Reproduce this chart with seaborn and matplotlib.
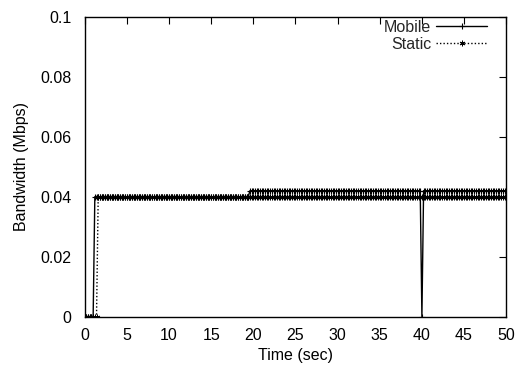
import numpy as np
import pandas as pd
import matplotlib
matplotlib.use("Agg")
import matplotlib.pyplot as plt
import seaborn as sns

# sample times (sec)
time_step = 0.2
t_end = 50.0

# piecewise levels: (start time, bandwidth Mbps)
mobile_breaks = [0.0, 1.2, 19.6, 40.0, 40.2]
mobile_levels = [0.0, 0.04, 0.042, 0.0, 0.042]
static_breaks = [0.0, 1.6]
static_levels = [0.0, 0.04]

x_ticks = [0, 5, 10, 15, 20, 25, 30, 35, 40, 45, 50]
y_ticks = [0, 0.02, 0.04, 0.06, 0.08, 0.1]
y_tick_labels = ["0", "0.02", "0.04", "0.06", "0.08", "0.1"]


def expand(breaks, levels, times):
    idx = np.searchsorted(np.array(breaks) - 1e-9, times, side="right") - 1
    return np.array(levels)[idx]


times = np.round(np.arange(0, t_end + 1e-9, time_step), 4)
df = pd.DataFrame({
    "time": np.concatenate([times, times]),
    "bw": np.concatenate([expand(mobile_breaks, mobile_levels, times),
                          expand(static_breaks, static_levels, times)]),
    "series": ["Mobile"] * len(times) + ["Static"] * len(times),
})

sns.set_style("white")
plt.rcParams["font.family"] = ["Liberation Sans", "DejaVu Sans"]
FS = 11.5

fig = plt.figure(figsize=(5.21, 3.67), dpi=100)
ax = fig.add_axes([0.1626, 0.137, 0.809, 0.8175])

mob = df[df.series == "Mobile"]
sta = df[df.series == "Static"]
sns.lineplot(data=mob, x="time", y="bw", ax=ax, color="black", lw=1.0,
             marker="+", markersize=5, markeredgewidth=0.8,
             markeredgecolor="black", label="Mobile",
             estimator=None, sort=False)
sns.lineplot(data=sta, x="time", y="bw", ax=ax, color="black", lw=1.0,
             linestyle=(0, (1, 1.5)), marker=(6, 2, 0), markersize=4,
             markeredgewidth=0.7, markeredgecolor="black", label="Static",
             estimator=None, sort=False)

ax.set_xlim(0, 50)
ax.set_ylim(0, 0.1)
ax.set_xticks(x_ticks)
ax.set_xticklabels([str(v) for v in x_ticks])
ax.set_yticks(y_ticks)
ax.set_yticklabels(y_tick_labels)
ax.tick_params(direction="in", length=5, width=0.8, top=True, right=True,
               labelsize=FS, colors="black")
ax.tick_params(axis="x", pad=8)
ax.tick_params(axis="y", pad=9.5)
for s in ax.spines.values():
    s.set_color("black")
    s.set_linewidth(1.0)
ax.set_xlabel("Time (sec)", fontsize=FS, color="black", labelpad=4)
ax.set_ylabel("Bandwidth (Mbps)", fontsize=FS, color="black", labelpad=8)

leg = ax.legend(loc="upper right", bbox_to_anchor=(0.955, 0.99),
                frameon=False, markerfirst=False, fontsize=FS,
                handlelength=3.2, borderaxespad=0.0, borderpad=0.0,
                labelspacing=0.12, handletextpad=0.3)

fig.savefig("out.png", dpi=100)
